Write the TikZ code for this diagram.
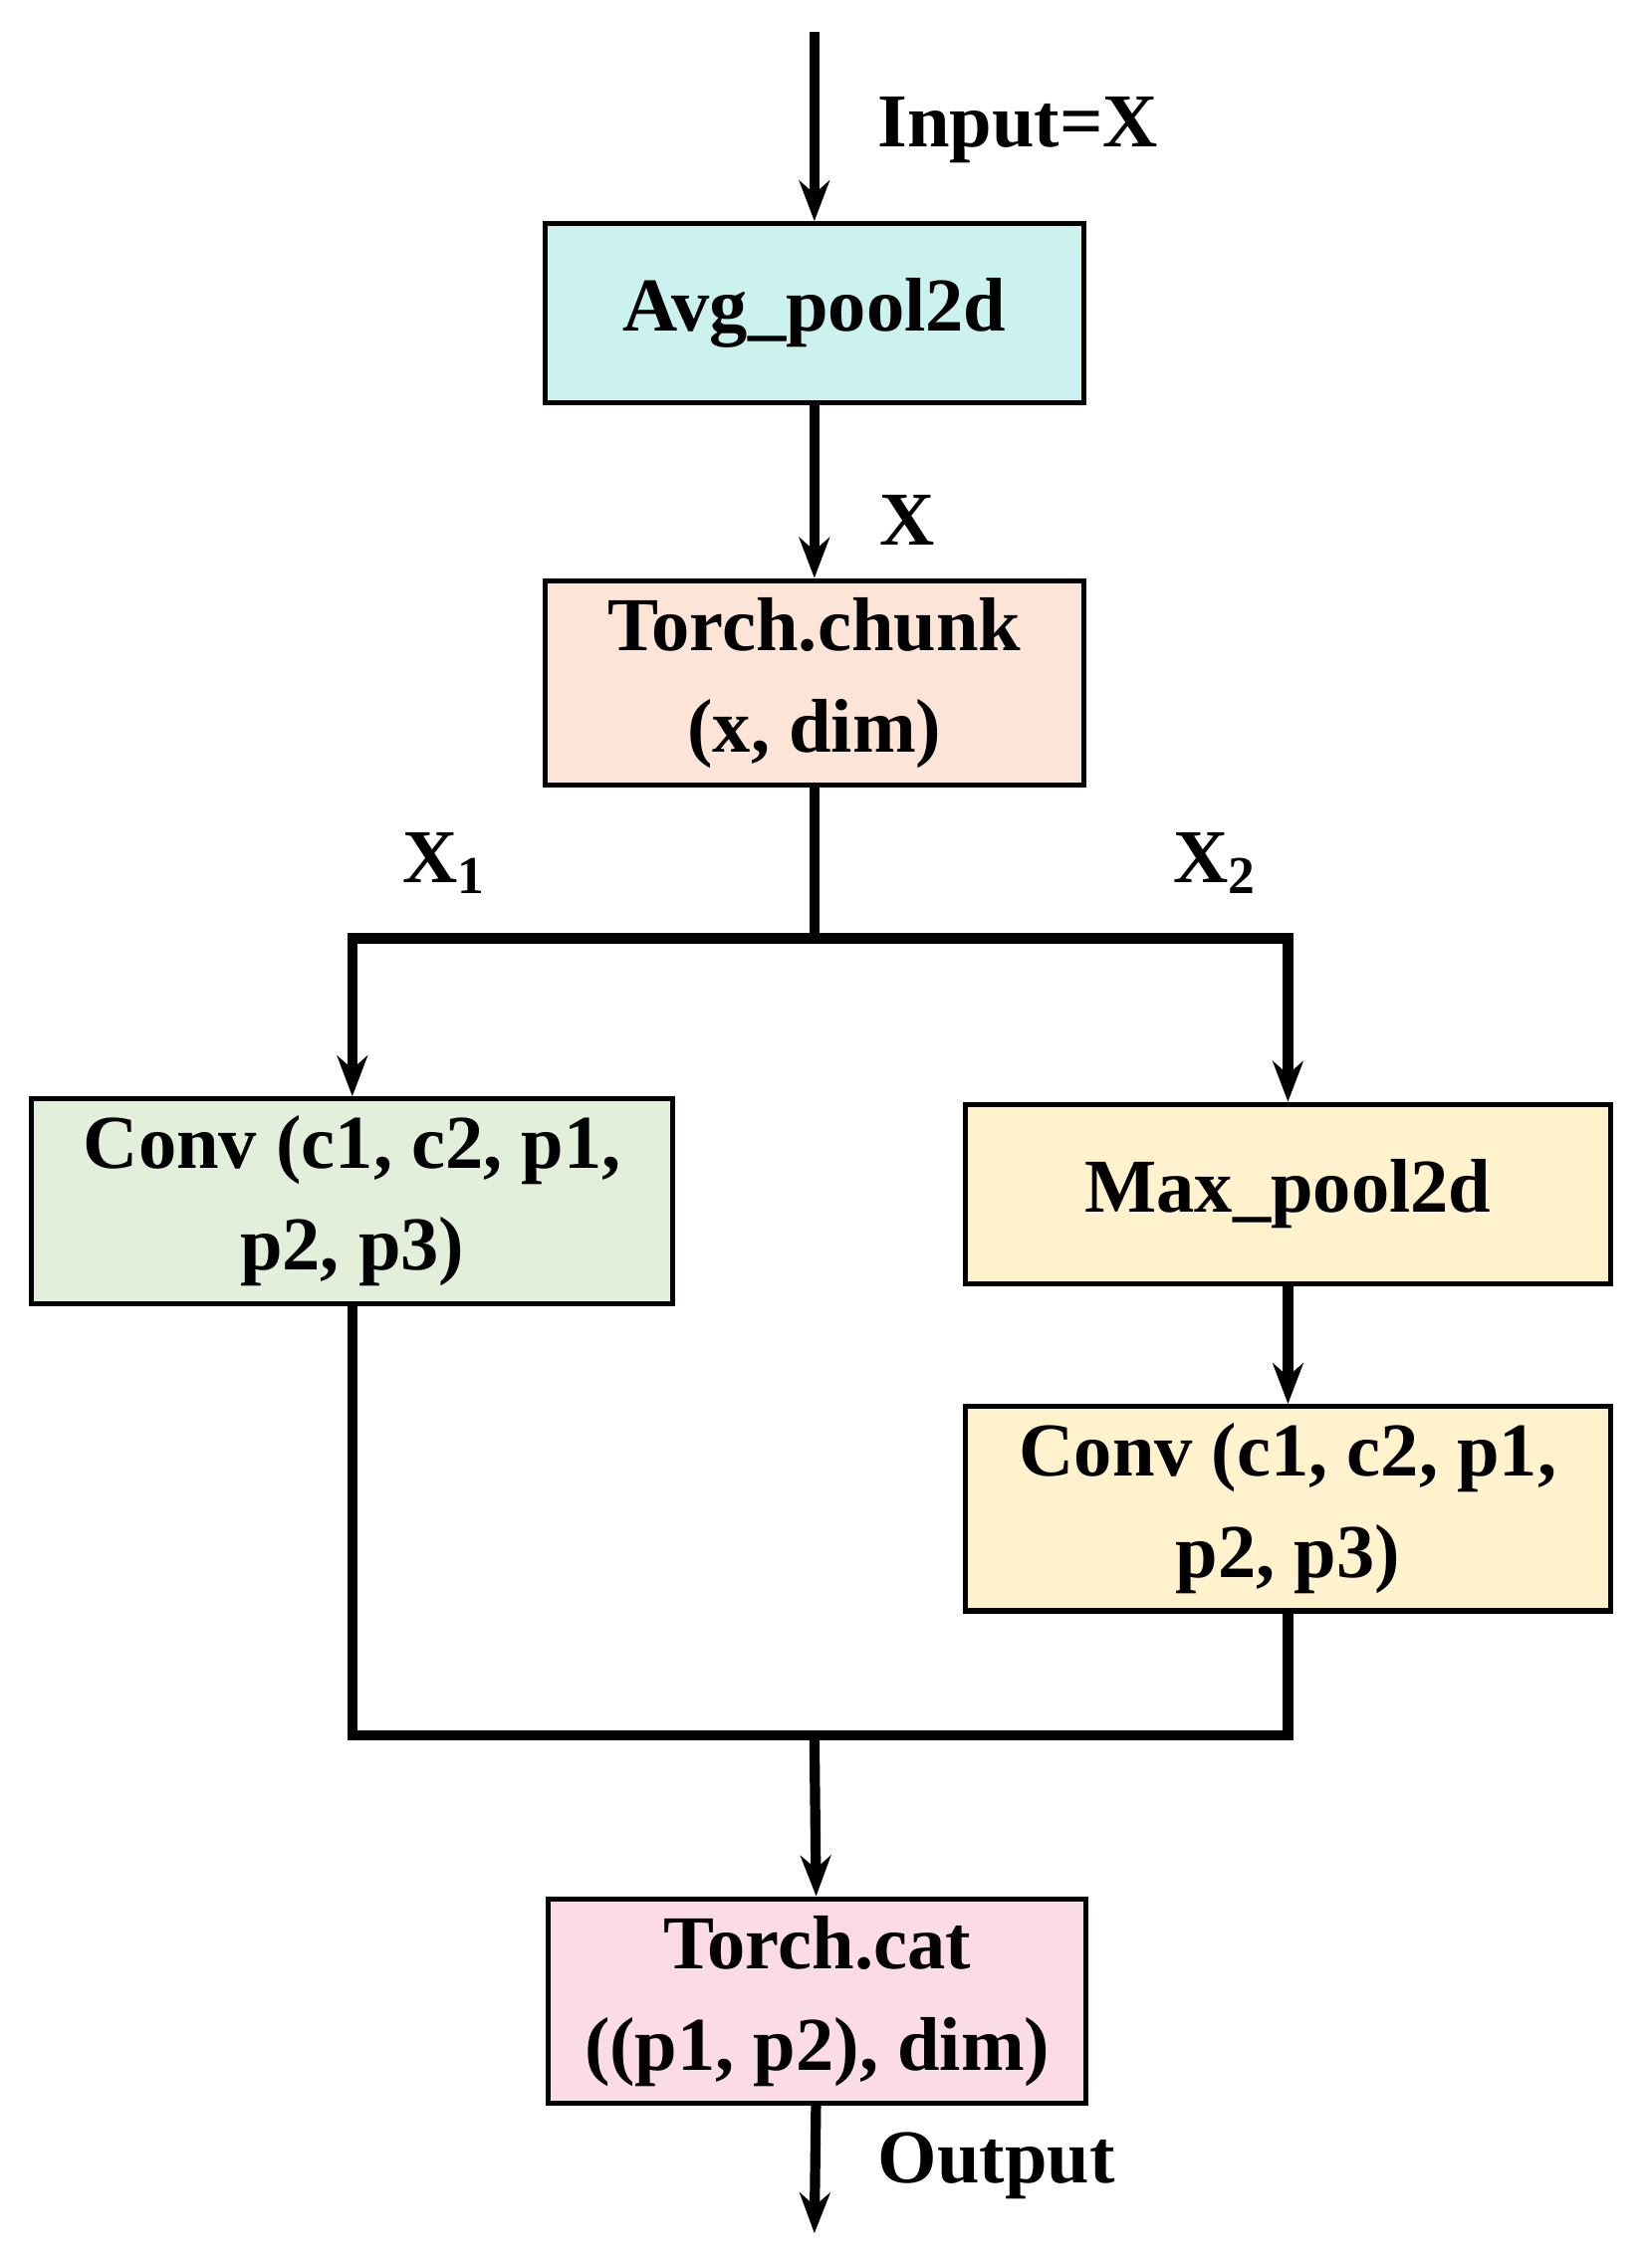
\documentclass[tikz,border=0pt]{standalone}
\usepackage{fontspec}
\setmainfont{Liberation Serif}
\usetikzlibrary{arrows.meta, positioning, calc}
\definecolor{avgcyan}{HTML}{CCF2F0}
\definecolor{chunkpeach}{HTML}{FCE4D6}
\definecolor{convgreen}{HTML}{E2EFDA}
\definecolor{poolyellow}{HTML}{FFF2CC}
\definecolor{catpink}{HTML}{FCDCE4}
\begin{document}
\begin{tikzpicture}[
    x=0.01cm, y=-0.01cm,
    block/.style={rectangle, draw=black, line width=1pt, minimum height=1.24cm, align=center, font=\fontsize{15}{20}\selectfont\bfseries},
    lbl/.style={font=\fontsize{15}{20}\selectfont\bfseries},
    arrow/.style={-{Stealth[length=8pt, width=6pt]}, line width=2pt},
    wire/.style={line width=2pt}
]
\useasboundingbox (0,0) rectangle (1140,1571);

% Blocks
\node[block, fill=avgcyan, minimum width=3.73cm] (avg) at (564,217) {Avg\_pool2d};
\node[block, fill=chunkpeach, minimum width=3.73cm] (chunk) at (564,473) {Torch.chunk\\(x, dim)};
\node[block, fill=convgreen, minimum width=4.44cm] (convl) at (244,832) {Conv (c1, c2, p1,\\p2, p3)};
\node[block, fill=poolyellow, minimum width=4.47cm] (maxp) at (892,827) {Max\_pool2d};
\node[block, fill=poolyellow, minimum width=4.47cm] (convr) at (892,1045) {Conv (c1, c2, p1,\\p2, p3)};
\node[block, fill=catpink, minimum width=3.72cm] (cat) at (566,1386) {Torch.cat\\((p1, p2), dim)};

% Free ends and junctions
\coordinate (in) at (564,22);
\coordinate (out) at (564,1547);
\coordinate (split) at (564,650);
\coordinate (merge) at (564,1202);

% Labels
\node[lbl] (linput) at (705,90) {Input=X};
\node[lbl] (lx) at (628,360) {X};
\node[lbl] (lx1) at (308,598) {X\textsubscript{1}};
\node[lbl] (lx2) at (842,598) {X\textsubscript{2}};
\node[lbl] (lout) at (690,1500) {Output};

% Arrows
\draw[arrow] (in) -- (avg);
\draw[arrow] (avg) -- (chunk);
\draw[wire] (chunk) -- (split);
\draw[arrow] (split) -| (convl);
\draw[arrow] (split) -| (maxp);
\draw[arrow] (maxp) -- (convr);
\draw[wire] (convl.south) |- (merge);
\draw[wire] (convr.south) |- (merge);
\draw[arrow] (merge) -- (cat);
\draw[arrow] (cat) -- (out);

\end{tikzpicture}
\end{document}
